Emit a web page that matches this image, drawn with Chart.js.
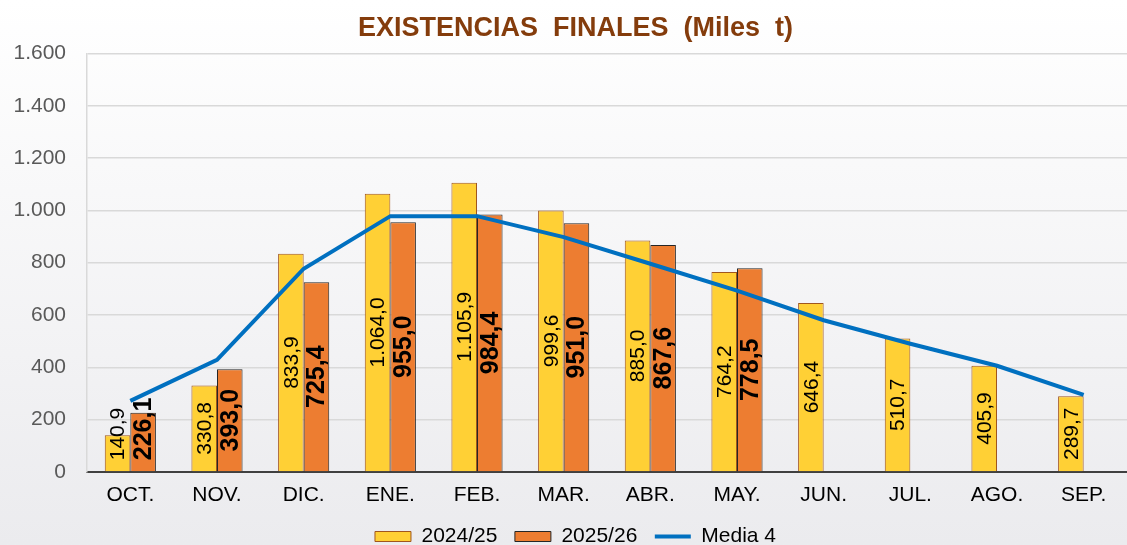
<!DOCTYPE html>
<html>
<head>
<meta charset="utf-8">
<script src="https://cdn.jsdelivr.net/npm/chart.js@4.4.1/dist/chart.umd.min.js"></script>
<style>
  html,body{margin:0;padding:0;background:#fff;}
  #wrap{width:1127px;height:545px;position:relative;}
</style>
</head>
<body>
<div id="wrap"><canvas id="c"></canvas></div>
<script>
/* ===== datos ===== */
const MESES = ['OCT.','NOV.','DIC.','ENE.','FEB.','MAR.','ABR.','MAY.','JUN.','JUL.','AGO.','SEP.'];
const C2425 = [140.9,330.8,833.9,1064.0,1105.9,999.6,885.0,764.2,646.4,510.7,405.9,289.7];
const C2526 = [226.1,393.0,725.4,955.0,984.4,951.0,867.6,778.5,null,null,null,null];
const MEDIA4 = [272,429,777,978,978,898,796,693,580,490,406,295];

const FONT = '"Liberation Sans", Arial, sans-serif';
const fmtES = (v,dec)=> {
  const s = v.toFixed(dec).split('.');
  const ent = s[0].replace(/\B(?=(\d{3})+(?!\d))/g,'.');
  return s[1]!==undefined ? ent+','+s[1] : ent;
};

/* fondo degradado */
const bgPlugin = {
  id:'bg',
  beforeDraw(ch){
    const {ctx,width,height} = ch;
    const g = ctx.createLinearGradient(0,0,0,height);
    g.addColorStop(0,'#ffffff'); g.addColorStop(1,'#ebebee');
    ctx.save(); ctx.fillStyle=g; ctx.fillRect(0,0,width,height); ctx.restore();
  }
};

/* título y leyenda un poco a la derecha, como en el original */
const shiftPlugin = {
  id:'shift',
  afterLayout(ch){
    if(ch.titleBlock) ch.titleBlock.left += 24;
    if(ch.legend) ch.legend.left += 24;
  }
};

/* etiquetas verticales dentro de las barras */
const lblPlugin = {
  id:'lbl',
  afterDatasetsDraw(ch){
    const ctx = ch.ctx;
    [[0,'400 21px '+FONT],[1,'700 25px '+FONT]].forEach(([di,font])=>{
      const meta = ch.getDatasetMeta(di);
      const data = ch.data.datasets[di].data;
      meta.data.forEach((el,i)=>{
        const v = data[i]; if(v==null) return;
        ctx.save();
        ctx.font = font;
        const txt = fmtES(v,1);
        const w = ctx.measureText(txt).width;
        let cy = (el.y + el.base)/2;
        if(cy + w/2 > el.base - 11) cy = el.base - 11 - w/2;
        ctx.translate(el.x, cy);
        ctx.rotate(-Math.PI/2);
        ctx.fillStyle = '#000';
        ctx.textAlign='center'; ctx.textBaseline='middle';
        ctx.fillText(txt,0,1);
        ctx.restore();
      });
    });
  }
};

new Chart(document.getElementById('c'),{
  type:'bar',
  data:{
    labels:MESES,
    datasets:[
      {label:'2024/25   ', data:C2425, backgroundColor:'#ffd035', borderColor:'#a0561e', borderWidth:1,
       categoryPercentage:0.59, barPercentage:1, order:1},
      {label:'2025/26   ', data:C2526, backgroundColor:'#ed7d31', borderColor:'#262626', borderWidth:1,
       categoryPercentage:0.59, barPercentage:1, order:2},
      {label:'Media 4', type:'line', data:MEDIA4, borderColor:'#0070c0', backgroundColor:'#0070c0',
       borderWidth:4, pointRadius:0, tension:0, order:0}
    ]
  },
  options:{
    responsive:true, maintainAspectRatio:false, animation:false,
    layout:{padding:{left:0,right:0,top:0,bottom:-12}},
    plugins:{
      tooltip:{enabled:false},
      title:{display:true, text:'EXISTENCIAS  FINALES  (Miles  t)', color:'#843c0c',
        font:{family:FONT,size:27,weight:'bold'}, padding:{top:12,bottom:9}},
      legend:{position:'bottom',
        labels:{usePointStyle:true, pointStyleWidth:36, boxHeight:10, padding:0, color:'#000',
          font:{family:FONT,size:21,lineHeight:1},
          sort:(a,b)=>a.datasetIndex-b.datasetIndex,
          generateLabels(ch){
            return ch.data.datasets.map((d,i)=>({
              text:d.label, datasetIndex:i,
              fillStyle:d.backgroundColor, strokeStyle:d.borderColor,
              lineWidth: d.type==='line'?4:1,
              pointStyle: d.type==='line'?'line':'rect',
              fontColor:'#000', hidden:false
            }));
          }}}
    },
    scales:{
      x:{grid:{display:false, drawTicks:false},
         border:{color:'#404040', width:2},
         ticks:{color:'#000', font:{family:FONT,size:21}, padding:11},
         afterFit:s=>{ s.height = 54; }},
      y:{min:0,max:1600,
         ticks:{stepSize:200, color:'#595959', font:{family:FONT,size:21}, padding:21,
           callback:v=>fmtES(v,0)},
         grid:{color:'#d9d9d9', lineWidth:1.5, drawTicks:false},
         border:{color:'#d9d9d9', width:1.5},
         afterFit:s=>{ s.width = 87; }}
    }
  },
  plugins:[bgPlugin,shiftPlugin,lblPlugin]
});
</script>
</body>
</html>
